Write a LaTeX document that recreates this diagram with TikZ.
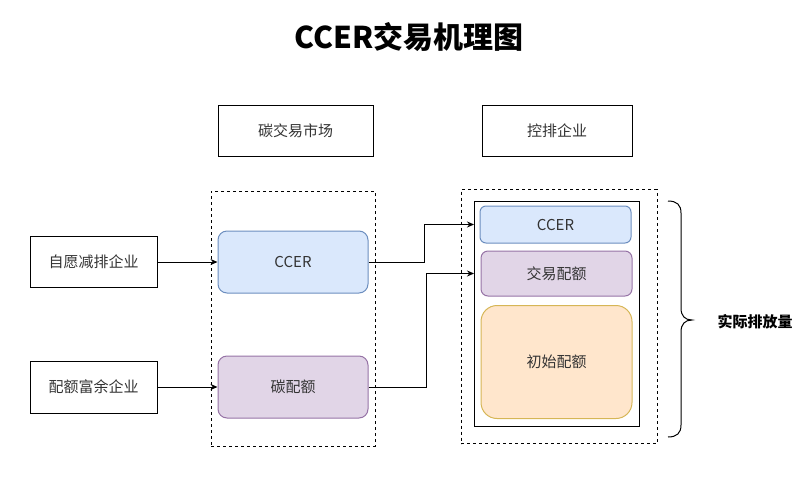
\documentclass[tikz,border=0pt]{standalone}
\usepackage{fontspec}
\setmainfont{Noto Sans CJK SC}
\usetikzlibrary{arrows.meta}
\definecolor{blueF}{HTML}{DAE8FC}\definecolor{blueS}{HTML}{6C8EBF}
\definecolor{purF}{HTML}{E1D5E7}\definecolor{purS}{HTML}{9673A6}
\definecolor{oraF}{HTML}{FFE6CC}\definecolor{oraS}{HTML}{D6B656}
\definecolor{txt}{HTML}{333333}
\tikzset{
  box/.style={draw=black, line width=1pt, rectangle, inner sep=0pt, text=txt, font=\fontsize{15}{17}\selectfont},
  dashbox/.style={draw=black, line width=1pt, dash pattern=on 3pt off 3pt, rectangle, inner sep=0pt},
  bluebox/.style={box, draw=blueS, fill=blueF},
  purbox/.style={box, draw=purS, fill=purF},
  orabox/.style={box, draw=oraS, fill=oraF},
  arr/.style={line width=1pt, -{Stealth[length=7pt,width=6pt]}},
}
\begin{document}
\begin{tikzpicture}[x=1pt,y=-1pt]
\useasboundingbox (0,0) rectangle (805,482);
\node[font=\fontsize{30}{34}\selectfont\bfseries] (title) at (409,37.5) {CCER交易机理图};
\node[box, minimum width=155pt, minimum height=51pt] (market) at (295.5,130.5) {碳交易市场};
\node[box, minimum width=150pt, minimum height=51pt] (ctrl) at (557,130.5) {控排企业};
\node[box, minimum width=127pt, minimum height=51pt] (vol) at (93.5,262) {自愿减排企业};
\node[box, minimum width=127pt, minimum height=52pt] (surplus) at (93.5,387) {配额富余企业};
\node[dashbox, minimum width=164pt, minimum height=255pt] (ldash) at (293,318.5) {};
\node[bluebox, rounded corners=9pt, minimum width=150pt, minimum height=62pt] (ccerL) at (293,262) {CCER};
\node[purbox, rounded corners=9pt, minimum width=150pt, minimum height=62pt] (quota) at (293,387) {碳配额};
\node[dashbox, minimum width=196pt, minimum height=254pt] (rdash) at (559,316.5) {};
\node[box, minimum width=165pt, minimum height=225pt] (inner) at (557,313.5) {};
\node[bluebox, rounded corners=6pt, minimum width=151pt, minimum height=37pt] (ccerR) at (555.5,224.5) {CCER};
\node[purbox, rounded corners=7pt, minimum width=151pt, minimum height=45pt] (trade) at (556.5,273.5) {交易配额};
\node[orabox, rounded corners=16pt, minimum width=151pt, minimum height=113pt] (init) at (556.5,362) {初始配额};
\node[font=\fontsize{15}{17}\selectfont\bfseries] (actual) at (755,322) {实际排放量};
\coordinate (btop) at (668,201);
\coordinate (bbot) at (668,437);
\draw[line width=1pt] (btop) .. controls (677,201) and (681,205) .. (681,213) -- (681,308)
  .. controls (681,316) and (685,320) .. (692,320) .. controls (685,320) and (681,324) .. (681,332)
  -- (681,425) .. controls (681,433) and (677,437) .. (bbot);
\draw[arr] (vol.east) -- (ccerL.west);
\draw[arr] (surplus.east) -- (quota.west);
\draw[arr] (ccerL.east) -- ++(56,0) |- (ccerR.west -| inner.west);
\draw[arr] (quota.east) -- ++(58,0) |- (trade.west -| inner.west);
\end{tikzpicture}
\end{document}
